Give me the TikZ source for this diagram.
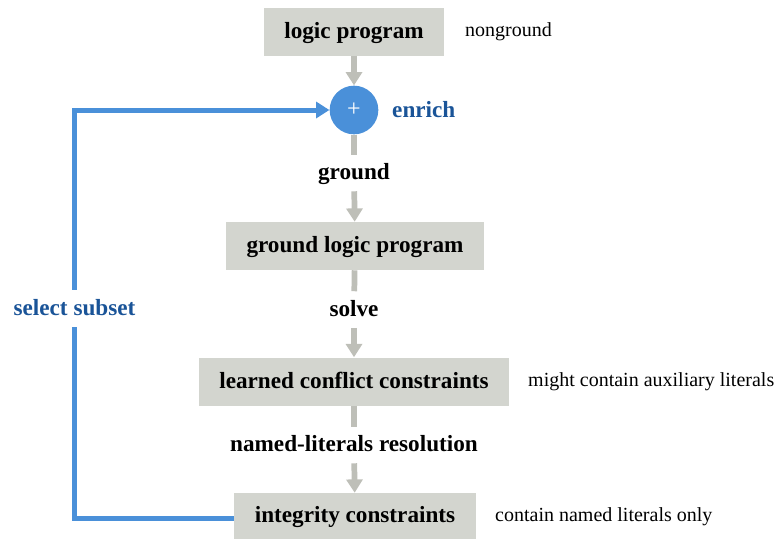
\documentclass[tikz,border=0pt]{standalone}
\usepackage{fontspec}
\setmainfont{Liberation Serif}
\usetikzlibrary{arrows.meta,positioning}
\definecolor{boxgray}{RGB}{211,213,207}
\definecolor{arrowgray}{RGB}{190,191,184}
\definecolor{loopblue}{RGB}{74,144,217}
\definecolor{textblue}{RGB}{26,84,152}
\begin{document}
\begin{tikzpicture}[x=0.75pt,y=-0.75pt,
  boldtext/.style={font=\fontsize{17.4}{20}\selectfont\bfseries},
  stage/.style={boldtext, fill=boxgray, inner sep=0pt, minimum height=36pt,
    text height=12pt, text depth=2.2pt},
  flowlabel/.style={boldtext, inner sep=0pt, minimum height=27pt,
    text height=12pt, text depth=2.2pt},
  note/.style={font=\fontsize{15}{18}\selectfont, inner sep=0pt,
    text height=10pt, text depth=2pt},
  flowline/.style={draw=arrowgray, line width=4.3pt},
  flow/.style={flowline, -{Triangle[length=10pt,width=12pt]}},
  loopline/.style={draw=loopblue, line width=3.75pt},
]
\useasboundingbox (0,0) rectangle (778,540);

% pipeline stages
\node[stage, minimum width=135pt] (lp) at (354,31.5) {logic program};
\node[circle, fill=loopblue, inner sep=0pt, minimum size=36.5pt,
      text=white, font=\fontsize{18}{18}\selectfont] (plus) at (354,110) {+};
\node[flowlabel] (ground) at (354,173) {ground};
\node[stage, minimum width=193.5pt] (glp) at (355,246) {ground logic program};
\node[flowlabel] (solve) at (354,309.5) {solve};
\node[stage, minimum width=232.5pt] (lcc) at (354,381.5) {learned conflict constraints};
\node[flowlabel] (nlr) at (354,445) {named-literals resolution};
\node[stage, minimum width=181.5pt, minimum height=34.5pt] (ic) at (355,516) {integrity constraints};

% side notes
\node[note, anchor=west, right=15.5pt of lp] (n1) {nonground};
\node[boldtext, text=textblue, inner sep=0pt, anchor=west, right=10pt of plus] (enrich) {enrich};
\node[note, anchor=west, right=14pt of lcc] (n2) {might contain auxiliary literals};
\node[note, anchor=west, right=14pt of ic] (n3) {contain named literals only};

% gray flow
\draw[flow] (lp) -- (plus);
\draw[flowline] (plus) -- (ground);
\draw[flow] (ground) -- (glp);
\draw[flowline] (glp) -- (solve);
\draw[flow] (solve) -- (lcc);
\draw[flowline] (lcc) -- (nlr);
\draw[flow] (nlr) -- (ic);

% feedback loop
\coordinate (lowcorner) at (74.5,518);
\coordinate (topcorner) at (74.5,110);
\node[boldtext, text=textblue, fill=white, inner xsep=0pt, inner ysep=0pt,
      minimum height=28pt, text height=12pt, text depth=2.2pt] (select) at (74.5,308.5) {select subset};
\draw[loopline] (ic.west |- lowcorner) -- (lowcorner) -- (select.south);
\draw[loopline, -{Triangle[length=10pt,width=12pt]}]
  (select.north) -- (topcorner) -- (plus.west);
\end{tikzpicture}
\end{document}
